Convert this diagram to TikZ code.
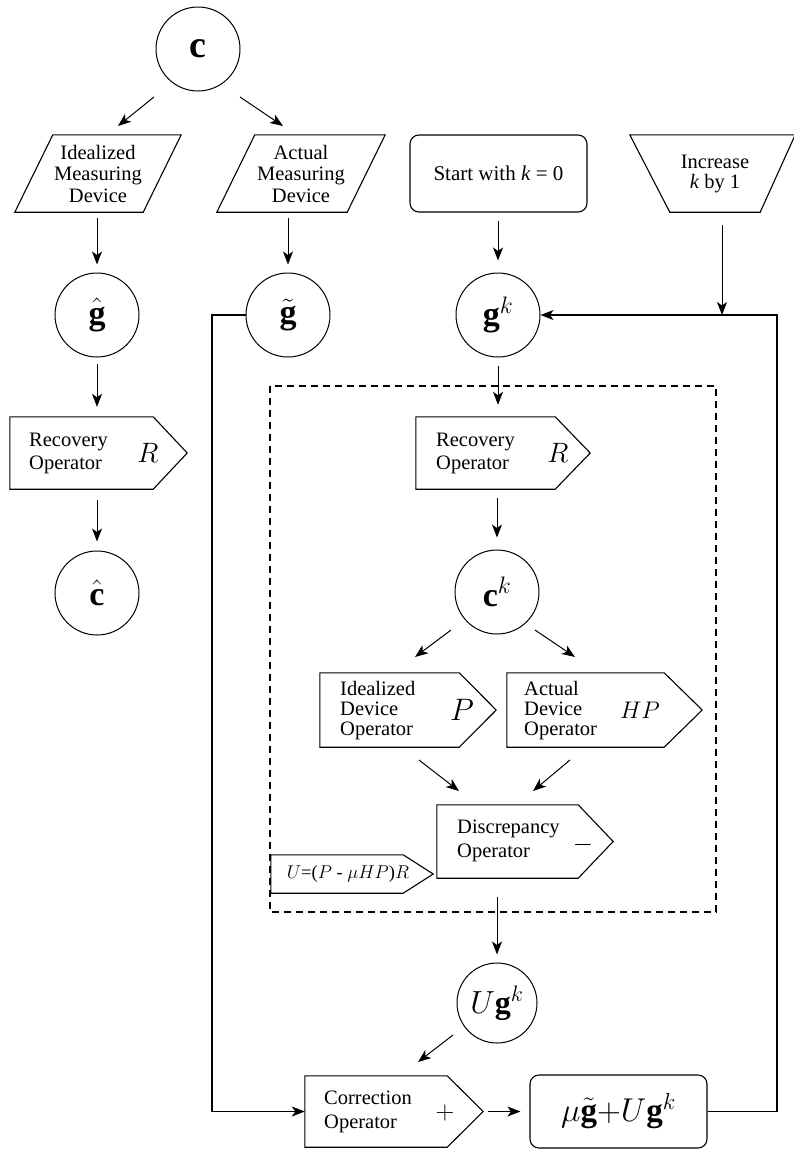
\RequirePackage{fix-cm}
\documentclass[tikz,border=0pt]{standalone}
\usepackage{fontspec}
\setmainfont{Liberation Serif}
\usetikzlibrary{arrows.meta,calc}
\tikzset{
  ln/.style={line width=1.1pt},
  circ/.style={circle, draw, line width=1pt, minimum size=84pt, inner sep=0pt, font=\fontsize{34}{36}\selectfont},
  body/.style={rectangle, draw=none, inner sep=0pt},
  lbl/.style={inner sep=0pt, align=left, font=\fontsize{20.5}{23}\selectfont},
  lblc/.style={inner sep=0pt, align=center, font=\fontsize{20.5}{21.5}\selectfont},
  sym/.style={inner sep=0pt, font=\fontsize{28}{30}\selectfont},
  arr/.style={-{Stealth[length=13pt,width=10pt,inset=3.5pt]}, line width=1pt},
  dbox/.style={line width=1.1pt, dash pattern=on 7pt off 5pt},
}
\begin{document}
\begin{tikzpicture}[x=1pt,y=-1pt]
\useasboundingbox (0,0) rectangle (793,1149);

% ---- circles
\node[circ, font=\fontsize{38}{40}\selectfont] (c) at (198,49) {$\mathbf{c}$};
\node[circ] (gh) at (97,315) {$\hat{\mathbf{g}}$};
\node[circ] (gt) at (288,315) {$\tilde{\mathbf{g}}$};
\node[circ] (gk) at (498,315) {$\mathbf{g}^{k}$};
\node[circ] (ch) at (97,593) {$\hat{\mathbf{c}}$};
\node[circ] (ck) at (497,592) {$\mathbf{c}^{k}$};
\node[circ, minimum size=80pt, font=\fontsize{32}{34}\selectfont] (ugk) at (497,1003) {$U\mathbf{g}^{k}$};

% ---- measuring devices (parallelograms)
\node[body, minimum width=128pt, minimum height=77pt, lblc] (idm) at (98,173.5) {Idealized\\Measuring\\Device};
\draw[ln] ($(idm.north west)+(19,0)$) -- ($(idm.north east)+(19,0)$) -- ($(idm.south east)+(-19,0)$) -- ($(idm.south west)+(-19,0)$) -- cycle;
\node[body, minimum width=130pt, minimum height=77pt, lblc] (amd) at (301,173.5) {Actual\\Measuring\\Device};
\draw[ln] ($(amd.north west)+(19,0)$) -- ($(amd.north east)+(19,0)$) -- ($(amd.south east)+(-19,0)$) -- ($(amd.south west)+(-19,0)$) -- cycle;

% ---- start box
\node[draw, ln, rounded corners=9pt, minimum width=177pt, minimum height=77pt, inner sep=0pt, font=\fontsize{21}{23}\selectfont] (start) at (498.5,173.5) {Start with \textit{k} = 0};

% ---- increase trapezoid
\node[body, minimum width=90pt, minimum height=77pt, lblc, font=\fontsize{20.5}{20}\selectfont] (inc) at (715,173.5) {Increase\\\textit{k} by 1};
\draw[ln] ($(inc.north west)+(-40,0)$) -- ($(inc.north east)+(35,0)$) -- (inc.south east) -- (inc.south west) -- cycle;

% ---- recovery operator (left)
\node[body, minimum width=143pt, minimum height=72pt] (rec1) at (81.5,453) {};
\draw[ln] (rec1.north west) -- (rec1.north east) -- ($(rec1.east)+(34,0)$) -- (rec1.south east) -- (rec1.south west) -- cycle;
\node[lbl, anchor=west] (rec1t) at (29,453) {Recovery\\Operator};
\node[sym] (rec1s) at (148,453) {$R$};

% ---- dashed frame
\draw[dbox] (270,386) rectangle (716,912);

% ---- recovery operator (inner)
\node[body, minimum width=139pt, minimum height=72pt] (rec2) at (485.5,453) {};
\draw[ln] (rec2.north west) -- (rec2.north east) -- ($(rec2.east)+(35,0)$) -- (rec2.south east) -- (rec2.south west) -- cycle;
\node[lbl, anchor=west] (rec2t) at (436,453) {Recovery\\Operator};
\node[sym] (rec2s) at (558,453) {$R$};

% ---- idealized device operator
\node[body, minimum width=139pt, minimum height=74pt] (ido) at (389.5,710) {};
\draw[ln] (ido.north west) -- (ido.north east) -- ($(ido.east)+(37,0)$) -- (ido.south east) -- (ido.south west) -- cycle;
\node[lbl, anchor=west, font=\fontsize{20.5}{20}\selectfont] (idot) at (340,711) {Idealized\\Device\\Operator};
\node[sym, font=\fontsize{31}{33}\selectfont] (idos) at (462,710) {$P$};

% ---- actual device operator
\node[body, minimum width=157pt, minimum height=74pt] (ado) at (585.5,710) {};
\draw[ln] (ado.north west) -- (ado.north east) -- ($(ado.east)+(38,0)$) -- (ado.south east) -- (ado.south west) -- cycle;
\node[lbl, anchor=west, font=\fontsize{20.5}{20}\selectfont] (adot) at (524,711) {Actual\\Device\\Operator};
\node[sym, font=\fontsize{24}{26}\selectfont] (ados) at (640,710) {$HP$};

% ---- discrepancy operator
\node[body, minimum width=141pt, minimum height=73pt] (disc) at (507.5,841.5) {};
\draw[ln] (disc.north west) -- (disc.north east) -- ($(disc.east)+(35,0)$) -- (disc.south east) -- (disc.south west) -- cycle;
\node[lbl, anchor=west, font=\fontsize{20.5}{24}\selectfont] (disct) at (457,841) {Discrepancy\\Operator};
\node[sym, font=\fontsize{26}{28}\selectfont] (discs) at (583,845) {$-$};

% ---- U definition box
\node[body, minimum width=132pt, minimum height=38pt] (ubox) at (337,874) {};
\draw[ln] (ubox.north west) -- (ubox.north east) -- ($(ubox.east)+(30,0)$) -- (ubox.south east) -- (ubox.south west) -- cycle;
\node[inner sep=0pt, font=\fontsize{18.5}{20}\selectfont] (uboxt) at (348,874) {$U$=($P$ - $\mu HP$)$R$};

% ---- correction operator
\node[body, minimum width=142pt, minimum height=71pt] (corr) at (376,1111.5) {};
\draw[ln] (corr.north west) -- (corr.north east) -- ($(corr.east)+(36,0)$) -- (corr.south east) -- (corr.south west) -- cycle;
\node[lbl, anchor=west, font=\fontsize{20.5}{24}\selectfont] (corrt) at (324,1112) {Correction\\Operator};
\node[sym, font=\fontsize{26}{28}\selectfont] (corrs) at (445,1113) {$+$};

% ---- update box
\node[draw, ln, rounded corners=9pt, minimum width=177pt, minimum height=73pt, inner sep=0pt, font=\fontsize{33}{35}\selectfont] (mu) at (618.5,1111.5) {$\mu\tilde{\mathbf{g}}{+}U\mathbf{g}^{k}$};

% ---- arrow end points for the slanted arrows
\coordinate (a1s) at (154,97);  \coordinate (a1e) at (118,126);
\coordinate (a2s) at (240,97);  \coordinate (a2e) at (283,126);
\coordinate (a3s) at (451,630); \coordinate (a3e) at (415,657);
\coordinate (a4s) at (535,630); \coordinate (a4e) at (575,657);
\coordinate (a5s) at (419,760); \coordinate (a5e) at (459,791);
\coordinate (a6s) at (570,760); \coordinate (a6e) at (533,791);
\coordinate (a7s) at (453,1035); \coordinate (a7e) at (418,1062);
\coordinate (incs) at (722,225);
\coordinate (rloop) at (777,0);
\coordinate (lloop) at (212,0);

% ---- connectors
\draw[arr] (a1s) -- (a1e);
\draw[arr] (a2s) -- (a2e);
\draw[arr, shorten <=6pt, shorten >=8pt] (gh.north |- idm.south) -- (gh.north);
\draw[arr, shorten <=6pt, shorten >=8pt] (gt.north |- amd.south) -- (gt.north);
\draw[arr, shorten <=8pt, shorten >=12pt] (gk.north |- start.south) -- (gk.north);
\draw[arr, shorten <=6pt, shorten >=10pt] (gh.south) -- (gh.south |- rec1.north);
\draw[arr, shorten <=11pt, shorten >=9pt] (ch.north |- rec1.south) -- (ch.north);
\draw[arr, shorten <=8pt, shorten >=12pt] (gk.south) -- (gk.south |- rec2.north);
\draw[arr, shorten <=9pt, shorten >=12pt] (ck.north |- rec2.south) -- (ck.north);
\draw[arr] (a3s) -- (a3e);
\draw[arr] (a4s) -- (a4e);
\draw[arr] (a5s) -- (a5e);
\draw[arr] (a6s) -- (a6e);
\draw[arr, shorten <=19pt, shorten >=8pt] (ugk.north |- disc.south) -- (ugk.north);
\draw[arr] (a7s) -- (a7e);
\draw[arr, shorten <=5pt, shorten >=9pt] ($(corr.east)+(36,0)$) -- (mu.west);
\draw[arr] (incs) -- (incs |- gk.east);
\draw[ln, -{Stealth[length=13pt,width=10pt,inset=3.5pt]}] (mu.east) -- (mu.east -| rloop) -- (gk.east -| rloop) -- (gk.east);
\draw[ln, -{Stealth[length=13pt,width=10pt,inset=3.5pt]}] (gt.west) -- (gt.west -| lloop) -- (corr.west -| lloop) -- (corr.west);
\end{tikzpicture}
\end{document}
